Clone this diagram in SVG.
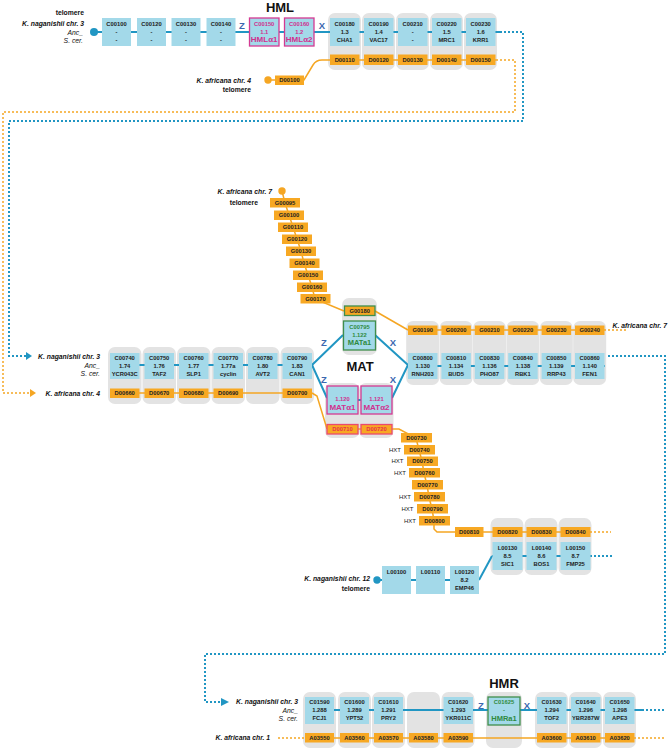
<svg xmlns="http://www.w3.org/2000/svg" width="671" height="749" viewBox="0 0 671 749">
<style>
.bg{fill:#e3e3e3}
.cb{fill:#a3d9e9}
.ob{fill:#f7a823}
.t{font-family:"Liberation Sans",Arial,sans-serif;font-weight:bold;font-size:5.8px;text-anchor:middle;fill:#222}
.lab{font-family:"Liberation Sans",Arial,sans-serif;font-size:6.8px;text-anchor:end;fill:#111}
.bi{font-weight:bold;font-style:italic}
.it{font-style:italic}
.b{font-weight:bold}
.hx{font-family:"Liberation Sans",Arial,sans-serif;font-size:6px;text-anchor:end;fill:#222}
.lb{stroke:#2196c3;stroke-width:2;fill:none}
.lo{stroke:#f5a623;stroke-width:1.5;fill:none}
.db{stroke:#2196c3;stroke-width:2;stroke-dasharray:2 2;fill:none}
.do{stroke:#f5a623;stroke-width:1.5;stroke-dasharray:2 2;fill:none}
.zx{font-family:"Liberation Sans",Arial,sans-serif;font-weight:bold;font-size:9.5px;fill:#3b68b0;text-anchor:middle}
.ttl{font-family:"Liberation Sans",Arial,sans-serif;font-weight:bold;font-size:13px;fill:#111;text-anchor:middle}
.pk{fill:#d12f8e}
.pks{stroke:#d43a93;stroke-width:1.3}
.gr{fill:#2f8a40}
.grs{stroke:#3f8e4c;stroke-width:1.3}
.rd{fill:#e8304a}
.rds{stroke:#ec4a6c;stroke-width:1.3}
.big{font-size:8px}
</style>

<!-- grey column backgrounds -->
<g id="bands">
<rect class="bg" x="328" y="13" width="33" height="57" rx="7"/>
<rect class="bg" x="362" y="13" width="33" height="57" rx="7"/>
<rect class="bg" x="396" y="13" width="33" height="57" rx="7"/>
<rect class="bg" x="430" y="13" width="33" height="57" rx="7"/>
<rect class="bg" x="464" y="13" width="33" height="57" rx="7"/>

<rect class="bg" x="108" y="347" width="33.5" height="57" rx="7"/>
<rect class="bg" x="142.5" y="347" width="33.5" height="57" rx="7"/>
<rect class="bg" x="177" y="347" width="33.5" height="57" rx="7"/>
<rect class="bg" x="211.5" y="347" width="33.5" height="57" rx="7"/>
<rect class="bg" x="246" y="347" width="33.5" height="57" rx="7"/>
<rect class="bg" x="280.5" y="347" width="33.5" height="57" rx="7"/>

<rect class="bg" x="342" y="298" width="35" height="57" rx="7"/>
<rect class="bg" x="325" y="383" width="34.5" height="55" rx="7"/>
<rect class="bg" x="359" y="383" width="34.5" height="55" rx="7"/>

<rect class="bg" x="406.2" y="321" width="33" height="64" rx="7"/>
<rect class="bg" x="439.6" y="321" width="33" height="64" rx="7"/>
<rect class="bg" x="473" y="321" width="33" height="64" rx="7"/>
<rect class="bg" x="506.4" y="321" width="33" height="64" rx="7"/>
<rect class="bg" x="539.8" y="321" width="33" height="64" rx="7"/>
<rect class="bg" x="573.2" y="321" width="33" height="64" rx="7"/>

<rect class="bg" x="490.5" y="518" width="33" height="57" rx="7"/>
<rect class="bg" x="524.5" y="518" width="33" height="57" rx="7"/>
<rect class="bg" x="558.5" y="518" width="33" height="57" rx="7"/>

<rect class="bg" x="303" y="692" width="33" height="56" rx="7"/>
<rect class="bg" x="338" y="692" width="33" height="56" rx="7"/>
<rect class="bg" x="372" y="692" width="33" height="56" rx="7"/>
<rect class="bg" x="407" y="692" width="33" height="56" rx="7"/>
<rect class="bg" x="441.5" y="692" width="33" height="56" rx="7"/>
<rect class="bg" x="486" y="692" width="36" height="56" rx="7"/>
<rect class="bg" x="535" y="692" width="33" height="56" rx="7"/>
<rect class="bg" x="569" y="692" width="33" height="56" rx="7"/>
<rect class="bg" x="603" y="692" width="33" height="56" rx="7"/>
</g>

<!-- connectors -->
<g id="connectors">
<!-- HML row -->
<line class="lb" x1="94" y1="32" x2="500" y2="32"/>
<path class="db" d="M500,32 H523 V121 H9 V356 H26"/>
<polygon points="26,352 32,356 26,360" fill="#2196c3"/>
<line class="lo" x1="330" y1="60" x2="496" y2="60"/>
<path class="lo" d="M330,60 H322 Q316,60 313,65 L304,80 H268"/>
<path class="do" d="M496,60 H515 V112 H3 V393 H30"/>
<polygon points="30,389 36,393 30,397" fill="#f5a623"/>
<!-- middle row -->
<line class="lb" x1="110" y1="365" x2="312" y2="365"/>
<line class="lo" x1="110" y1="393" x2="312" y2="393"/>
<path class="lb" d="M343,335 L312,365 L327,398"/>
<path class="lb" d="M375,335 L408,365 L392,398"/>
<line class="lb" x1="358" y1="400" x2="361" y2="400"/>
<line class="lb" x1="408" y1="366" x2="605" y2="366"/>
<path class="db" d="M608,356 H665 V654 H205 V702 H221"/>
<polygon points="221,698 229,702 221,706" fill="#2196c3"/>
<line class="lo" x1="408" y1="330" x2="604" y2="330"/>
<line class="do" x1="604" y1="330" x2="627" y2="330"/>
<polyline class="lo" points="282,191 285,203 289,215 293,227 297,239 301,251 304,263 308,275 312,287 315,299 344,311"/>
<line class="lo" x1="375" y1="311" x2="408" y2="330"/>
<polyline class="lo" points="312,393 317,396 327,429"/>
<line class="lo" x1="358" y1="429" x2="361" y2="429"/>
<polyline class="lo" points="392,429 399,429 416,438 419,450 422,461 424,473 427,485 429,497 432,509 434,521 434,529 437,532 455,532"/>
<line class="lo" x1="455" y1="532" x2="590" y2="532"/>
<line class="do" x1="590" y1="532" x2="611" y2="532"/>
<!-- chr 12 -->
<line class="lb" x1="377" y1="580" x2="479" y2="580"/>
<line class="lb" x1="479" y1="580" x2="492" y2="556"/>
<line class="lb" x1="492" y1="556" x2="590" y2="556"/>
<line class="db" x1="590" y1="556" x2="612" y2="556"/>
<!-- HMR row -->
<line class="lb" x1="305" y1="710" x2="642" y2="710"/>
<line class="db" x1="642" y1="710" x2="664" y2="710"/>
<line class="lo" x1="305" y1="738" x2="634" y2="738"/>
<line class="do" x1="278" y1="738" x2="305" y2="738"/>
<line class="do" x1="634" y1="738" x2="664" y2="738"/>
</g>

<!-- titles and labels -->
<g id="labels">
<text class="ttl" x="280" y="12">HML</text>
<text class="ttl" x="360" y="371">MAT</text>
<text class="ttl" x="504" y="688">HMR</text>
<text class="zx" x="242" y="29">Z</text>
<text class="zx" x="322" y="29">X</text>
<text class="zx" x="324" y="346">Z</text>
<text class="zx" x="324" y="383">Z</text>
<text class="zx" x="393" y="346">X</text>
<text class="zx" x="393" y="383">X</text>
<text class="zx" x="481" y="709">Z</text>
<text class="zx" x="527" y="709">X</text>

<text class="lab b" x="84" y="15">telomere</text>
<text class="lab bi" x="84" y="26">K. naganishii chr. 3</text>
<text class="lab it" x="83" y="34.5">Anc_</text>
<text class="lab it" x="83" y="43">S. cer.</text>
<circle cx="94" cy="32" r="4" fill="#2196c3"/>

<text class="lab bi" x="251" y="83">K. africana chr. 4</text>
<text class="lab b" x="251" y="92">telomere</text>
<circle cx="268" cy="80" r="3.7" fill="#f5a623"/>

<text class="lab bi" x="272" y="194">K. africana chr. 7</text>
<text class="lab b" x="258" y="205">telomere</text>
<circle cx="282" cy="191" r="3.7" fill="#f5a623"/>

<text class="lab bi" x="100" y="359">K. naganishii chr. 3</text>
<text class="lab it" x="100" y="368">Anc_</text>
<text class="lab it" x="100" y="376">S. cer.</text>
<text class="lab bi" x="100" y="396">K. africana chr. 4</text>

<text class="lab bi" x="667" y="328">K. africana chr. 7</text>

<text class="lab bi" x="370" y="581">K. naganishii chr. 12</text>
<text class="lab b" x="370" y="591">telomere</text>
<circle cx="377" cy="580" r="3.7" fill="#2196c3"/>

<text class="lab bi" x="298" y="704">K. naganishii chr. 3</text>
<text class="lab it" x="298" y="713">Anc_</text>
<text class="lab it" x="298" y="721">S. cer.</text>
<text class="lab bi" x="270" y="740">K. africana chr. 1</text>

<text class="hx" x="401" y="451.5">HXT</text>
<text class="hx" x="403.5" y="463">HXT</text>
<text class="hx" x="406" y="474.5">HXT</text>
<text class="hx" x="411" y="498.5">HXT</text>
<text class="hx" x="413.5" y="510.5">HXT</text>
<text class="hx" x="416" y="522.5">HXT</text>
</g>

<!-- HML row nodes -->
<g id="C00100"><rect class="cb" x="102" y="18" width="29" height="28"/><text class="t" x="116.5" y="26.3">C00100</text><text class="t" x="116.5" y="34">-</text><text class="t" x="116.5" y="41.7">-</text></g>
<g id="C00120"><rect class="cb" x="137" y="18" width="29" height="28"/><text class="t" x="151.5" y="26.3">C00120</text><text class="t" x="151.5" y="34">-</text><text class="t" x="151.5" y="41.7">-</text></g>
<g id="C00130"><rect class="cb" x="171.5" y="18" width="29" height="28"/><text class="t" x="186" y="26.3">C00130</text><text class="t" x="186" y="34">-</text><text class="t" x="186" y="41.7">-</text></g>
<g id="C00140"><rect class="cb" x="206.5" y="18" width="29" height="28"/><text class="t" x="221" y="26.3">C00140</text><text class="t" x="221" y="34">-</text><text class="t" x="221" y="41.7">-</text></g>
<g id="C00150"><rect class="cb pks" x="249.5" y="18" width="29.5" height="28"/><text class="t pk" x="264.2" y="26.3">C00150</text><text class="t pk" x="264.2" y="33.5">1.1</text><text class="t pk big" x="264.2" y="42.3">HMLα1</text></g>
<g id="C00160"><rect class="cb pks" x="284.5" y="18" width="29.5" height="28"/><text class="t pk" x="299.2" y="26.3">C00160</text><text class="t pk" x="299.2" y="33.5">1.2</text><text class="t pk big" x="299.2" y="42.3">HMLα2</text></g>
<g id="C00180"><rect class="cb" x="330" y="18" width="29.5" height="28"/><text class="t" x="344.7" y="26.3">C00180</text><text class="t" x="344.7" y="34">1.3</text><text class="t" x="344.7" y="41.7">CHA1</text></g>
<g id="C00190"><rect class="cb" x="364" y="18" width="29.5" height="28"/><text class="t" x="378.7" y="26.3">C00190</text><text class="t" x="378.7" y="34">1.4</text><text class="t" x="378.7" y="41.7">VAC17</text></g>
<g id="C00210"><rect class="cb" x="398" y="18" width="29.5" height="28"/><text class="t" x="412.7" y="26.3">C00210</text><text class="t" x="412.7" y="34">-</text><text class="t" x="412.7" y="41.7">-</text></g>
<g id="C00220"><rect class="cb" x="432" y="18" width="29.5" height="28"/><text class="t" x="446.7" y="26.3">C00220</text><text class="t" x="446.7" y="34">1.5</text><text class="t" x="446.7" y="41.7">MRC1</text></g>
<g id="C00230"><rect class="cb" x="466" y="18" width="29.5" height="28"/><text class="t" x="480.7" y="26.3">C00230</text><text class="t" x="480.7" y="34">1.6</text><text class="t" x="480.7" y="41.7">KRR1</text></g>

<g id="D00100"><rect class="ob" x="275" y="75.5" width="29" height="9.5"/><text class="t" x="289.5" y="82.3">D00100</text></g>
<g id="D00110"><rect class="ob" x="330" y="54.5" width="29.5" height="10.5"/><text class="t" x="344.7" y="61.8">D00110</text></g>
<g id="D00120"><rect class="ob" x="364" y="54.5" width="29.5" height="10.5"/><text class="t" x="378.7" y="61.8">D00120</text></g>
<g id="D00130"><rect class="ob" x="398" y="54.5" width="29.5" height="10.5"/><text class="t" x="412.7" y="61.8">D00130</text></g>
<g id="D00140"><rect class="ob" x="432" y="54.5" width="29.5" height="10.5"/><text class="t" x="446.7" y="61.8">D00140</text></g>
<g id="D00150"><rect class="ob" x="466" y="54.5" width="29.5" height="10.5"/><text class="t" x="480.7" y="61.8">D00150</text></g>

<!-- K. africana chr 7 chain -->
<g id="G00095"><rect class="ob" x="270" y="198" width="30" height="9.5"/><text class="t" x="285" y="204.8">G00095</text></g>
<g id="G00100"><rect class="ob" x="274" y="210.5" width="30" height="9.5"/><text class="t" x="289" y="217.3">G00100</text></g>
<g id="G00110"><rect class="ob" x="278" y="222.5" width="30" height="9.5"/><text class="t" x="293" y="229.3">G00110</text></g>
<g id="G00120"><rect class="ob" x="282" y="234.5" width="30" height="9.5"/><text class="t" x="297" y="241.3">G00120</text></g>
<g id="G00130"><rect class="ob" x="286" y="246.5" width="30" height="9.5"/><text class="t" x="301" y="253.3">G00130</text></g>
<g id="G00140"><rect class="ob" x="289.5" y="258.5" width="30" height="9.5"/><text class="t" x="304.5" y="265.3">G00140</text></g>
<g id="G00150"><rect class="ob" x="293" y="270.5" width="30" height="9.5"/><text class="t" x="308" y="277.3">G00150</text></g>
<g id="G00160"><rect class="ob" x="297" y="282.5" width="30" height="9.5"/><text class="t" x="312" y="289.3">G00160</text></g>
<g id="G00170"><rect class="ob" x="300.5" y="294" width="30" height="9.5"/><text class="t" x="315.5" y="300.8">G00170</text></g>
<g id="G00180"><rect class="ob grs" x="344.5" y="306" width="30.5" height="9.5"/><text class="t" x="359.7" y="312.8" fill="#2f6b2f">G00180</text></g>

<g id="G00190"><rect class="ob" x="408" y="325.5" width="29.5" height="9.5"/><text class="t" x="422.7" y="332.3">G00190</text></g>
<g id="G00200"><rect class="ob" x="441.4" y="325.5" width="29.5" height="9.5"/><text class="t" x="456.1" y="332.3">G00200</text></g>
<g id="G00210"><rect class="ob" x="474.8" y="325.5" width="29.5" height="9.5"/><text class="t" x="489.5" y="332.3">G00210</text></g>
<g id="G00220"><rect class="ob" x="508.2" y="325.5" width="29.5" height="9.5"/><text class="t" x="522.9" y="332.3">G00220</text></g>
<g id="G00230"><rect class="ob" x="541.6" y="325.5" width="29.5" height="9.5"/><text class="t" x="556.3" y="332.3">G00230</text></g>
<g id="G00240"><rect class="ob" x="575" y="325.5" width="29.5" height="9.5"/><text class="t" x="589.7" y="332.3">G00240</text></g>

<!-- middle chr 3 row -->
<g id="C00740"><rect class="cb" x="110" y="353" width="29.5" height="26"/><text class="t" x="124.7" y="359.5">C00740</text><text class="t" x="124.7" y="368">1.74</text><text class="t" x="124.7" y="376">YCR043C</text></g>
<g id="C00750"><rect class="cb" x="144.5" y="353" width="29.5" height="26"/><text class="t" x="159.2" y="359.5">C00750</text><text class="t" x="159.2" y="368">1.76</text><text class="t" x="159.2" y="376">TAF2</text></g>
<g id="C00760"><rect class="cb" x="179" y="353" width="29.5" height="26"/><text class="t" x="193.7" y="359.5">C00760</text><text class="t" x="193.7" y="368">1.77</text><text class="t" x="193.7" y="376">SLP1</text></g>
<g id="C00770"><rect class="cb" x="213.5" y="353" width="29.5" height="26"/><text class="t" x="228.2" y="359.5">C00770</text><text class="t" x="228.2" y="368">1.77a</text><text class="t" x="228.2" y="376">cyclin</text></g>
<g id="C00780"><rect class="cb" x="248" y="353" width="29.5" height="26"/><text class="t" x="262.7" y="359.5">C00780</text><text class="t" x="262.7" y="368">1.80</text><text class="t" x="262.7" y="376">AVT2</text></g>
<g id="C00790"><rect class="cb" x="282.5" y="353" width="29.5" height="26"/><text class="t" x="297.2" y="359.5">C00790</text><text class="t" x="297.2" y="368">1.83</text><text class="t" x="297.2" y="376">CAN1</text></g>

<g id="D00660"><rect class="ob" x="110" y="388.5" width="29.5" height="9.5"/><text class="t" x="124.7" y="395.3">D00660</text></g>
<g id="D00670"><rect class="ob" x="144.5" y="388.5" width="29.5" height="9.5"/><text class="t" x="159.2" y="395.3">D00670</text></g>
<g id="D00680"><rect class="ob" x="179" y="388.5" width="29.5" height="9.5"/><text class="t" x="193.7" y="395.3">D00680</text></g>
<g id="D00690"><rect class="ob" x="213.5" y="388.5" width="29.5" height="9.5"/><text class="t" x="228.2" y="395.3">D00690</text></g>
<g id="D00700"><rect class="ob" x="282.5" y="388.5" width="29.5" height="9.5"/><text class="t" x="297.2" y="395.3">D00700</text></g>

<!-- MAT -->
<g id="C00795"><rect class="cb grs" x="343.5" y="321" width="32" height="29"/><text class="t gr" x="359.5" y="329.3">C00795</text><text class="t gr" x="359.5" y="336.5">1.122</text><text class="t gr" x="359.5" y="345.3" style="font-size:7.5px">MATa1</text></g>
<g id="MATalpha1"><rect class="cb pks" x="327" y="386" width="31" height="28"/><text class="t pk" x="342.5" y="400.7">1.120</text><text class="t pk big" x="342.5" y="409.5">MATα1</text></g>
<g id="MATalpha2"><rect class="cb pks" x="361" y="386" width="31" height="28"/><text class="t pk" x="376.5" y="400.7">1.121</text><text class="t pk big" x="376.5" y="409.5">MATα2</text></g>
<g id="D00710"><rect class="ob rds" x="327" y="424.5" width="31" height="9.5"/><text class="t rd" x="342.5" y="431.3">D00710</text></g>
<g id="D00720"><rect class="ob rds" x="361" y="424.5" width="31" height="9.5"/><text class="t rd" x="376.5" y="431.3">D00720</text></g>

<!-- right chr 3 row -->
<g id="C00800"><rect class="cb" x="408" y="353" width="29.5" height="26"/><text class="t" x="422.7" y="359.5">C00800</text><text class="t" x="422.7" y="368">1.130</text><text class="t" x="422.7" y="376">RNH203</text></g>
<g id="C00810"><rect class="cb" x="441.4" y="353" width="29.5" height="26"/><text class="t" x="456.1" y="359.5">C00810</text><text class="t" x="456.1" y="368">1.134</text><text class="t" x="456.1" y="376">BUD5</text></g>
<g id="C00830"><rect class="cb" x="474.8" y="353" width="29.5" height="26"/><text class="t" x="489.5" y="359.5">C00830</text><text class="t" x="489.5" y="368">1.136</text><text class="t" x="489.5" y="376">PHO87</text></g>
<g id="C00840"><rect class="cb" x="508.2" y="353" width="29.5" height="26"/><text class="t" x="522.9" y="359.5">C00840</text><text class="t" x="522.9" y="368">1.138</text><text class="t" x="522.9" y="376">RBK1</text></g>
<g id="C00850"><rect class="cb" x="541.6" y="353" width="29.5" height="26"/><text class="t" x="556.3" y="359.5">C00850</text><text class="t" x="556.3" y="368">1.139</text><text class="t" x="556.3" y="376">RRP43</text></g>
<g id="C00860"><rect class="cb" x="575" y="353" width="29.5" height="26"/><text class="t" x="589.7" y="359.5">C00860</text><text class="t" x="589.7" y="368">1.140</text><text class="t" x="589.7" y="376">FEN1</text></g>

<!-- HXT chain -->
<g id="D00730"><rect class="ob" x="401" y="433" width="31" height="9.5"/><text class="t" x="416.5" y="439.8">D00730</text></g>
<g id="D00740"><rect class="ob" x="404" y="445" width="31" height="9.5"/><text class="t" x="419.5" y="451.8">D00740</text></g>
<g id="D00750"><rect class="ob" x="407" y="456.5" width="31" height="9.5"/><text class="t" x="422.5" y="463.3">D00750</text></g>
<g id="D00760"><rect class="ob" x="409" y="468" width="31" height="9.5"/><text class="t" x="424.5" y="474.8">D00760</text></g>
<g id="D00770"><rect class="ob" x="412" y="480" width="31" height="9.5"/><text class="t" x="427.5" y="486.8">D00770</text></g>
<g id="D00780"><rect class="ob" x="414" y="492" width="31" height="9.5"/><text class="t" x="429.5" y="498.8">D00780</text></g>
<g id="D00790"><rect class="ob" x="417" y="504" width="31" height="9.5"/><text class="t" x="432.5" y="510.8">D00790</text></g>
<g id="D00800"><rect class="ob" x="419" y="516" width="31" height="9.5"/><text class="t" x="434.5" y="522.8">D00800</text></g>
<g id="D00810"><rect class="ob" x="455" y="527" width="28.5" height="10"/><text class="t" x="469.2" y="534">D00810</text></g>
<g id="D00820"><rect class="ob" x="492.5" y="527" width="30" height="10"/><text class="t" x="507.5" y="534">D00820</text></g>
<g id="D00830"><rect class="ob" x="526.5" y="527" width="30" height="10"/><text class="t" x="541.5" y="534">D00830</text></g>
<g id="D00840"><rect class="ob" x="560.5" y="527" width="30" height="10"/><text class="t" x="575.5" y="534">D00840</text></g>

<!-- chr 12 -->
<g id="L00100"><rect class="cb" x="382" y="566" width="29" height="28"/><text class="t" x="396.5" y="574.3">L00100</text></g>
<g id="L00110"><rect class="cb" x="416" y="566" width="29" height="28"/><text class="t" x="430.5" y="574.3">L00110</text></g>
<g id="L00120"><rect class="cb" x="450" y="566" width="29" height="28"/><text class="t" x="464.5" y="574.3">L00120</text><text class="t" x="464.5" y="582">8.2</text><text class="t" x="464.5" y="589.7">EMP46</text></g>
<g id="L00130"><rect class="cb" x="492.5" y="542" width="30" height="28"/><text class="t" x="507.5" y="550.3">L00130</text><text class="t" x="507.5" y="558">8.5</text><text class="t" x="507.5" y="565.7">SIC1</text></g>
<g id="L00140"><rect class="cb" x="526.5" y="542" width="30" height="28"/><text class="t" x="541.5" y="550.3">L00140</text><text class="t" x="541.5" y="558">8.6</text><text class="t" x="541.5" y="565.7">BOS1</text></g>
<g id="L00150"><rect class="cb" x="560.5" y="542" width="30" height="28"/><text class="t" x="575.5" y="550.3">L00150</text><text class="t" x="575.5" y="558">8.7</text><text class="t" x="575.5" y="565.7">FMP25</text></g>

<!-- HMR row -->
<g id="C01590"><rect class="cb" x="305" y="697" width="29" height="27"/><text class="t" x="319.5" y="704.3">C01590</text><text class="t" x="319.5" y="712">1.288</text><text class="t" x="319.5" y="719.7">FCJ1</text></g>
<g id="C01600"><rect class="cb" x="340" y="697" width="29" height="27"/><text class="t" x="354.5" y="704.3">C01600</text><text class="t" x="354.5" y="712">1.289</text><text class="t" x="354.5" y="719.7">YPT52</text></g>
<g id="C01610"><rect class="cb" x="374" y="697" width="29" height="27"/><text class="t" x="388.5" y="704.3">C01610</text><text class="t" x="388.5" y="712">1.291</text><text class="t" x="388.5" y="719.7">PRY2</text></g>
<g id="C01620"><rect class="cb" x="443.5" y="697" width="29.5" height="27"/><text class="t" x="458.2" y="704.3">C01620</text><text class="t" x="458.2" y="712">1.293</text><text class="t" x="458.2" y="719.7">YKR011C</text></g>
<g id="C01625"><rect class="cb grs" x="488" y="697" width="32" height="28"/><text class="t gr" x="504" y="704.3">C01625</text><text class="t gr" x="504" y="712">-</text><text class="t gr" x="504" y="720.5" style="font-size:7.5px">HMRa1</text></g>
<g id="C01630"><rect class="cb" x="537" y="697" width="29.5" height="27"/><text class="t" x="551.7" y="704.3">C01630</text><text class="t" x="551.7" y="712">1.294</text><text class="t" x="551.7" y="719.7">TOF2</text></g>
<g id="C01640"><rect class="cb" x="571" y="697" width="29.5" height="27"/><text class="t" x="585.7" y="704.3">C01640</text><text class="t" x="585.7" y="712">1.296</text><text class="t" x="585.7" y="719.7">YBR287W</text></g>
<g id="C01650"><rect class="cb" x="605" y="697" width="29.5" height="27"/><text class="t" x="619.7" y="704.3">C01650</text><text class="t" x="619.7" y="712">1.298</text><text class="t" x="619.7" y="719.7">APE3</text></g>

<g id="A03550"><rect class="ob" x="305" y="733" width="29" height="9.5"/><text class="t" x="319.5" y="739.8">A03550</text></g>
<g id="A03560"><rect class="ob" x="340" y="733" width="29" height="9.5"/><text class="t" x="354.5" y="739.8">A03560</text></g>
<g id="A03570"><rect class="ob" x="374" y="733" width="29" height="9.5"/><text class="t" x="388.5" y="739.8">A03570</text></g>
<g id="A03580"><rect class="ob" x="409" y="733" width="29" height="9.5"/><text class="t" x="423.5" y="739.8">A03580</text></g>
<g id="A03590"><rect class="ob" x="443.5" y="733" width="29.5" height="9.5"/><text class="t" x="458.2" y="739.8">A03590</text></g>
<g id="A03600"><rect class="ob" x="537" y="733" width="29.5" height="9.5"/><text class="t" x="551.7" y="739.8">A03600</text></g>
<g id="A03610"><rect class="ob" x="571" y="733" width="29.5" height="9.5"/><text class="t" x="585.7" y="739.8">A03610</text></g>
<g id="A03620"><rect class="ob" x="605" y="733" width="29.5" height="9.5"/><text class="t" x="619.7" y="739.8">A03620</text></g>
</svg>
